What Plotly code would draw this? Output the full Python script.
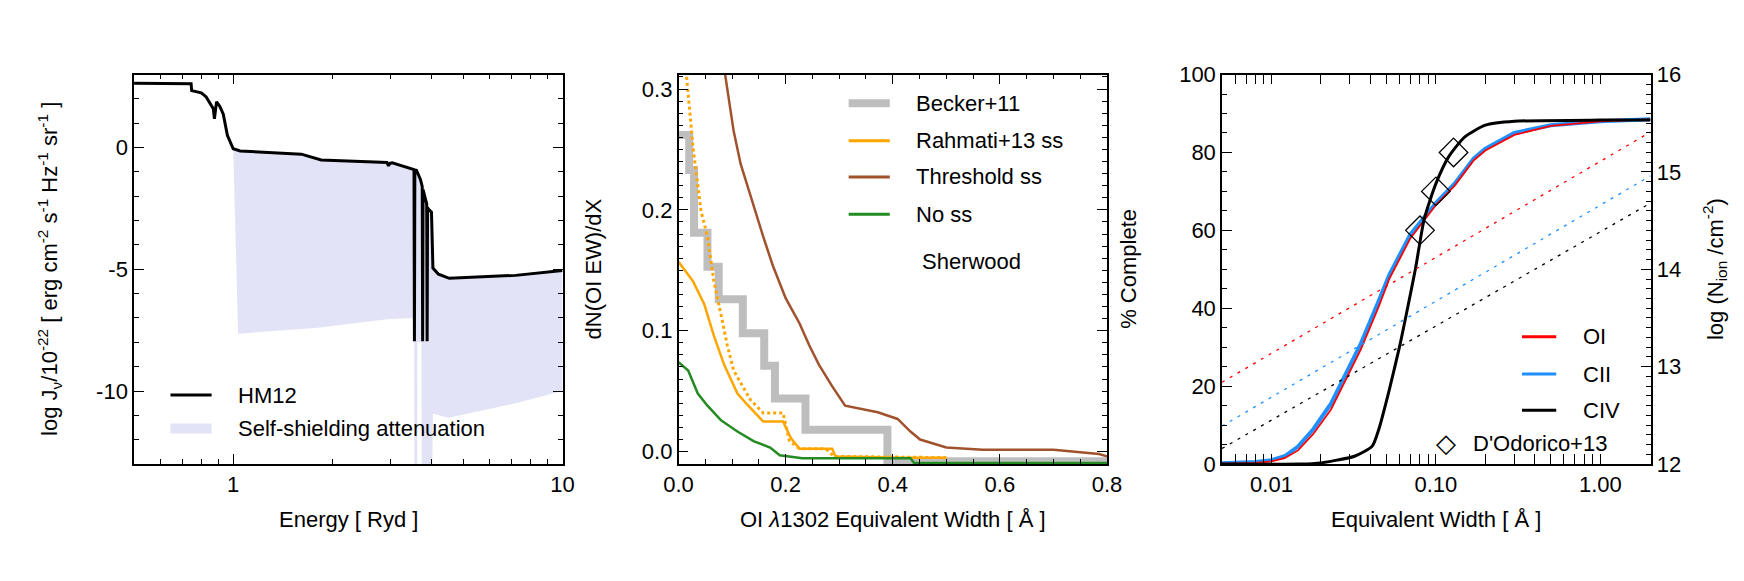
import numpy as np
import plotly.graph_objects as go

# ---------------- Panel 1 data ----------------
hm12_E = [0.5, 0.745, 0.748, 0.8, 0.828, 0.87, 0.877, 0.884, 0.89, 0.91, 0.933, 0.96, 0.985, 1.0, 1.05,
          1.61, 1.85, 2.93, 2.96, 2.99, 3.04, 3.36, 3.48, 3.6, 3.7, 3.8, 3.9, 4.0, 4.04, 4.2, 4.53, 7.2, 10.0]
hm12_logJ = [2.64, 2.62, 2.34, 2.25, 2.08, 1.6, 1.18, 1.75, 1.88, 1.7, 1.37, 0.5, 0.1, -0.05, -0.14,
             -0.27, -0.51, -0.61, -0.75, -0.65, -0.63, -0.8, -0.88, -0.93, -1.3, -1.9, -2.5, -2.65, -4.95, -5.2, -5.37, -5.25, -5.05]
dip_E = [3.55, 3.76, 3.88]
dip_floor = -7.96
atten_low_E = [1.035, 1.81, 2.93, 3.5, 3.545, 3.55, 3.62, 3.625, 3.73, 3.735, 4.02, 4.04, 4.5, 7.2, 10.0]
atten_low_logJ = [-7.65, -7.4, -7.05, -7.0, -7.3, -13.5, -13.5, -8.0, -8.0, -13.5, -13.5, -10.93, -11.1, -10.5, -10.0]

# ---------------- Panel 2 data ----------------
becker_EW = [0.0, 0.020, 0.029, 0.054, 0.075, 0.12, 0.16, 0.18, 0.237, 0.39, 0.8]
becker_dNdX = [0.262, 0.233, 0.181, 0.153, 0.126, 0.098, 0.071, 0.044, 0.018, -0.008, -0.008]
rahmati_EW = [0.0, 0.027, 0.048, 0.066, 0.085, 0.103, 0.11, 0.128, 0.158, 0.195, 0.21, 0.226, 0.287, 0.293, 0.415, 0.5]
rahmati_dNdX = [0.157, 0.141, 0.122, 0.096, 0.072, 0.054, 0.048, 0.039, 0.025, 0.025, 0.011, 0.0024, 0.0024, -0.004, -0.005, -0.005]
rahmati_dot_EW = [0.013, 0.02, 0.027, 0.036, 0.042, 0.054, 0.066, 0.079, 0.091, 0.103, 0.134, 0.158, 0.195, 0.207, 0.226, 0.275, 0.29, 0.5]
rahmati_dot_dNdX = [0.32, 0.286, 0.252, 0.22, 0.199, 0.178, 0.141, 0.114, 0.088, 0.067, 0.043, 0.032, 0.032, 0.009, 0.0024, 0.0024, -0.004, -0.005]
thresh_EW = [0.086, 0.103, 0.116, 0.134, 0.158, 0.176, 0.2, 0.226, 0.244, 0.262, 0.287, 0.311, 0.372, 0.409, 0.433, 0.451, 0.5, 0.568, 0.7, 0.785, 0.8]
thresh_dNdX = [0.315, 0.265, 0.238, 0.212, 0.178, 0.154, 0.127, 0.106, 0.088, 0.072, 0.054, 0.038, 0.0325, 0.027, 0.0166, 0.010, 0.0034, 0.0016, 0.0016, -0.002, -0.004]
noss_EW = [0.0, 0.018, 0.036, 0.054, 0.079, 0.11, 0.14, 0.171, 0.189, 0.231, 0.433, 0.44, 0.8]
noss_dNdX = [0.074, 0.067, 0.048, 0.038, 0.026, 0.0166, 0.0087, 0.0034, -0.003, -0.0055, -0.0055, -0.0095, -0.0095]

# ---------------- Panel 3 data ----------------
comp_EW = [0.005, 0.008, 0.01, 0.012, 0.0145, 0.018, 0.023, 0.026, 0.035, 0.045, 0.052, 0.07, 0.1, 0.13, 0.17, 0.2, 0.3, 0.5, 1.0, 2.02]
comp_CII = [0.2, 0.5, 1.0, 2.0, 4.5, 9.0, 15.5, 20.0, 31.0, 42.0, 48.5, 59.0, 67.0, 72.0, 78.5, 81.0, 85.0, 87.0, 88.0, 88.5]
comp_OI = [0.1, 0.3, 0.7, 1.5, 3.5, 7.8, 14.0, 18.5, 29.5, 40.5, 47.5, 58.0, 66.5, 71.5, 78.0, 80.5, 84.5, 86.8, 88.0, 88.5]
civ_EW = [0.005, 0.015, 0.02, 0.025, 0.032, 0.041, 0.045, 0.052, 0.06, 0.065, 0.075, 0.085, 0.1, 0.12, 0.15, 0.2, 0.3, 1.0, 2.02]
comp_CIV = [0.0, 0.0, 0.3, 1.0, 2.0, 4.6, 9.0, 19.0, 30.0, 37.0, 50.0, 63.0, 72.0, 79.0, 84.0, 87.0, 88.0, 88.3, 88.3]
dod_EW = [0.080, 0.100, 0.128]
dod_comp = [60, 70, 80]
ncurve_EW = [0.005, 2.02]
logN_OI = [12.84, 15.41]
logN_CII = [12.39, 14.96]
logN_CIV = [12.16, 14.68]

FONT = "Liberation Sans, Arial, sans-serif"
FS = 22
LAV = "#E3E3F7"

fig = go.Figure()

# ---- Panel 1 ----
Jint = lambda e: float(np.interp(np.log10(e), np.log10(hm12_E), hm12_logJ))
allx = list(hm12_E)
ally = list(hm12_logJ)
for d in dip_E:
    idx = int(np.searchsorted(allx, d))
    allx[idx:idx] = [d * 0.997, d, d * 1.003]
    ally[idx:idx] = [Jint(d * 0.997), dip_floor, Jint(d * 1.003)]

up_E = [e for e in hm12_E if e >= 1.0]
up_J = [Jint(e) for e in up_E]
poly_x = up_E + atten_low_E[::-1]
poly_y = up_J + atten_low_logJ[::-1]
fig.add_trace(go.Scatter(x=poly_x, y=poly_y, fill="toself", fillcolor=LAV, line=dict(width=0),
                         mode="lines", xaxis="x", yaxis="y", showlegend=False, hoverinfo="skip"))
fig.add_trace(go.Scatter(x=allx, y=ally, mode="lines", line=dict(color="black", width=3),
                         xaxis="x", yaxis="y", showlegend=False))

# ---- Panel 2 ----
fig.add_trace(go.Scatter(x=becker_EW, y=becker_dNdX, mode="lines", line=dict(color="#BEBEBE", width=8, shape="hv"),
                         xaxis="x2", yaxis="y2", showlegend=False))
fig.add_trace(go.Scatter(x=thresh_EW, y=thresh_dNdX, mode="lines", line=dict(color="#A0522D", width=2.5),
                         xaxis="x2", yaxis="y2", showlegend=False))
fig.add_trace(go.Scatter(x=rahmati_dot_EW, y=rahmati_dot_dNdX, mode="lines",
                         line=dict(color="#FFA500", width=3, dash="dot"),
                         xaxis="x2", yaxis="y2", showlegend=False))
fig.add_trace(go.Scatter(x=rahmati_EW, y=rahmati_dNdX, mode="lines", line=dict(color="#FFA500", width=2.5),
                         xaxis="x2", yaxis="y2", showlegend=False))
fig.add_trace(go.Scatter(x=noss_EW, y=noss_dNdX, mode="lines", line=dict(color="#228B22", width=2.5),
                         xaxis="x2", yaxis="y2", showlegend=False))

# ---- Panel 3 ----
for yv, col in [(logN_OI, "#FF0000"), (logN_CII, "#1E90FF"), (logN_CIV, "black")]:
    fig.add_trace(go.Scatter(x=ncurve_EW, y=yv, mode="lines", line=dict(color=col, width=1.3, dash="3px,6px"),
                             xaxis="x3", yaxis="y4", showlegend=False))
fig.add_trace(go.Scatter(x=comp_EW, y=comp_CII, mode="lines", line=dict(color="#1E90FF", width=4),
                         xaxis="x3", yaxis="y3", showlegend=False))
fig.add_trace(go.Scatter(x=comp_EW, y=comp_OI, mode="lines", line=dict(color="#FF0000", width=1.8),
                         xaxis="x3", yaxis="y3", showlegend=False))
fig.add_trace(go.Scatter(x=civ_EW, y=comp_CIV, mode="lines", line=dict(color="black", width=3, shape="spline", smoothing=0.6),
                         xaxis="x3", yaxis="y3", showlegend=False))
fig.add_trace(go.Scatter(x=dod_EW, y=dod_comp, mode="markers",
                         marker=dict(symbol="diamond-open", size=22, color="black", line=dict(width=1.3)),
                         xaxis="x3", yaxis="y3", showlegend=False))

W, H = 1744, 581
top, bot = 57, 464
ydom = [1 - bot / H, 1 - top / H]
d1 = [113 / W, 549 / W]
d2 = [667 / W, 1103 / W]
d3 = [1220 / W, 1656 / W]

tickfont = dict(family=FONT, size=FS, color="black")
common = dict(showline=True, linecolor="black", linewidth=1.5, ticks="inside", ticklen=10, tickcolor="black",
              showgrid=False, zeroline=False, tickfont=tickfont, mirror="allticks")

fig.update_layout(
    width=W, height=H, margin=dict(l=0, r=0, t=0, b=0),
    paper_bgcolor="white", plot_bgcolor="white", showlegend=False,
    font=dict(family=FONT, size=FS, color="black"),
    xaxis=dict(domain=d1, anchor="y", type="log", range=[np.log10(0.5), 1.0], tickvals=[1, 10], ticktext=["1", "10"],
               minor=dict(ticks="inside", ticklen=5, tickvals=[0.6, 0.7, 0.8, 0.9, 2, 3, 4, 5, 6, 7, 8, 9], tickcolor="black"),
               **common),
    yaxis=dict(domain=ydom, anchor="x", range=[-13, 3], tickvals=[0, -5, -10], ticktext=["0", "-5", "-10"],
               minor=dict(ticks="inside", ticklen=5, dtick=1, tickcolor="black"), **common),
    xaxis2=dict(domain=d2, anchor="y2", range=[0, 0.8], tickvals=[0, 0.2, 0.4, 0.6, 0.8],
                ticktext=["0.0", "0.2", "0.4", "0.6", "0.8"],
                minor=dict(ticks="inside", ticklen=5, dtick=0.05, tickcolor="black"), **common),
    yaxis2=dict(domain=ydom, anchor="x2", range=[-0.0103, 0.312], tickvals=[0, 0.1, 0.2, 0.3],
                ticktext=["0.0", "0.1", "0.2", "0.3"],
                minor=dict(ticks="inside", ticklen=5, dtick=0.01, tickcolor="black"), **common),
    xaxis3=dict(domain=d3, anchor="y3", type="log", range=[np.log10(0.005), np.log10(2.02)],
                tickvals=[0.01, 0.1, 1.0], ticktext=["0.01", "0.10", "1.00"],
                minor=dict(ticks="inside", ticklen=5, tickcolor="black",
                           tickvals=[0.005, 0.006, 0.007, 0.008, 0.009, 0.02, 0.03, 0.04, 0.05, 0.06, 0.07, 0.08, 0.09,
                                     0.2, 0.3, 0.4, 0.5, 0.6, 0.7, 0.8, 0.9, 2.0]), **common),
    yaxis3=dict(domain=ydom, anchor="x3", range=[0, 100], tickvals=[0, 20, 40, 60, 80, 100],
                minor=dict(ticks="inside", ticklen=5, dtick=5, tickcolor="black"),
                showline=True, linecolor="black", linewidth=1.5, ticks="inside", ticklen=10, tickcolor="black",
                showgrid=False, zeroline=False, tickfont=tickfont, mirror=True),
    yaxis4=dict(overlaying="y3", anchor="x3", side="right", range=[12, 16], tickvals=[12, 13, 14, 15, 16],
                minor=dict(ticks="inside", ticklen=5, dtick=0.1, tickcolor="black"),
                showline=True, linecolor="black", linewidth=1.5, ticks="inside", ticklen=10, tickcolor="black",
                showgrid=False, zeroline=False, tickfont=tickfont),
)

ann = []
shapes = []
def txt(x, y, s, xref="paper", yref="paper", xanchor="left", angle=0, size=FS):
    ann.append(dict(x=x, y=y, xref=xref, yref=yref, text=s, showarrow=False, xanchor=xanchor, yanchor="middle",
                    textangle=angle, font=dict(family=FONT, size=size, color="black")))

def legline(xr, yr, x0, x1, y, color, width, dash="solid"):
    shapes.append(dict(type="line", xref=xr, yref=yr, x0=x0, x1=x1, y0=y, y1=y,
                       line=dict(color=color, width=width, dash=dash)))

# Axis titles
txt(0.0155, 0.5516, "log J<sub>ν</sub>/10<sup>-22</sup> [ erg cm<sup>-2</sup> s<sup>-1</sup> Hz<sup>-1</sup> sr<sup>-1</sup> ]",
    xanchor="center", angle=-90)
txt(0.3326, 0.5516, "dN(OI EW)/dX", xanchor="center", angle=-90)
txt(0.645, 0.5516, "% Complete", xanchor="center", angle=-90)
txt(0.987, 0.5516, "log (N<sub>ion</sub> /cm<sup>-2</sup>)", xanchor="center", angle=-90)
txt(0.19, 0.1015, "Energy [ Ryd ]", xanchor="center")
txt(0.5075, 0.1015, "OI <i>λ</i>1302 Equivalent Width [ Å ]", xanchor="center")
txt(0.8245, 0.1015, "Equivalent Width [ Å ]", xanchor="center")

# Panel 1 legend
legline("x domain", "y domain", 0.085, 0.181, 0.177, "black", 3)
txt(0.239, 0.177, "HM12", "x domain", "y domain")
legline("x domain", "y domain", 0.085, 0.181, 0.091, LAV, 10)
txt(0.239, 0.091, "Self-shielding attenuation", "x domain", "y domain")

# Panel 2 legend
leg2 = [("Becker+11", "#BEBEBE", 8, 0.926), ("Rahmati+13 ss", "#FFA500", 3, 0.830),
        ("Threshold ss", "#A0522D", 3, 0.737), ("No ss", "#228B22", 3, 0.641)]
for name, col, w, y in leg2:
    legline("x2 domain", "y2 domain", 0.397, 0.493, y, col, w)
    txt(0.550, y, name, "x2 domain", "y2 domain")
txt(0.564, 0.521, "Sherwood", "x2 domain", "y2 domain")

# Panel 3 legend
leg3 = [("OI", "#FF0000", 3, 0.327), ("CII", "#1E90FF", 3, 0.231), ("CIV", "black", 3, 0.138)]
for name, col, w, y in leg3:
    legline("x3 domain", "y3 domain", 0.700, 0.780, y, col, w)
    txt(0.837, y, name, "x3 domain", "y3 domain")
txt(0.523, 0.055, "◇", "x3 domain", "y3 domain", xanchor="center", size=26)
txt(0.580, 0.052, "D'Odorico+13", "x3 domain", "y3 domain")

fig.update_layout(annotations=ann, shapes=shapes)
fig.write_html("out.html")
